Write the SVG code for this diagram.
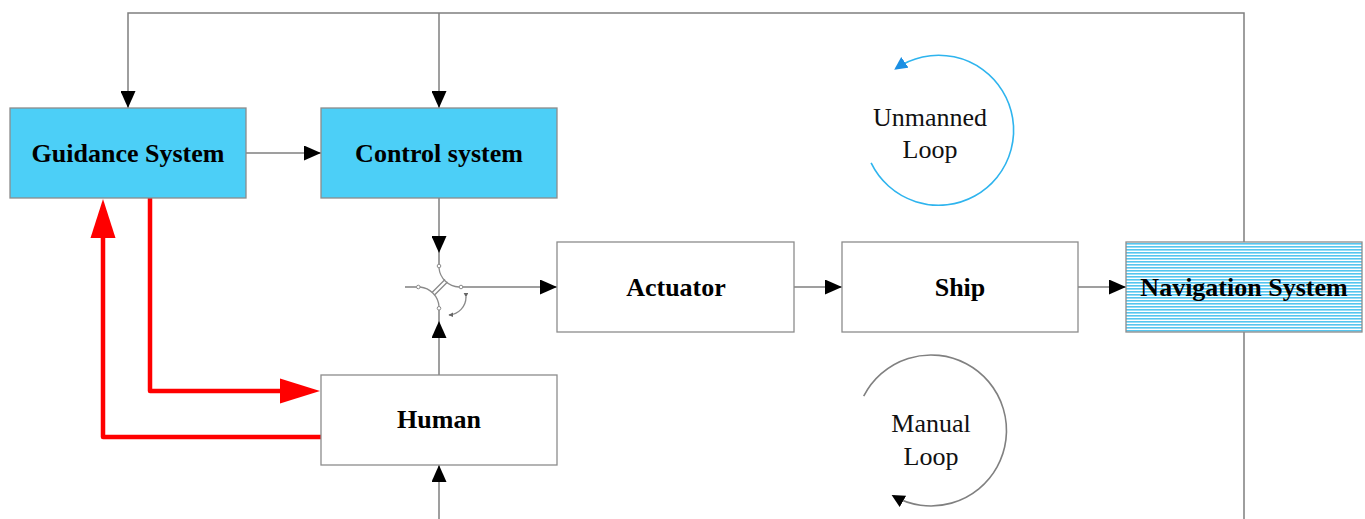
<svg xmlns="http://www.w3.org/2000/svg" width="1365" height="519" viewBox="0 0 1365 519">
<style>
.box{stroke:#8c8c8c;stroke-width:1.3}
.blue{fill:#4ccff7}
.white{fill:#ffffff}
.lbl{font-family:"Liberation Serif","Times New Roman",serif;font-weight:bold;font-size:26px;fill:#000;text-anchor:middle}
.loop{font-family:"Liberation Serif","Times New Roman",serif;font-size:26px;fill:#111;text-anchor:middle}
.con{fill:none;stroke:#7f7f7f;stroke-width:1.5}
.red{fill:none;stroke:#ff0000;stroke-width:4.5;stroke-linejoin:round}
.sw{fill:none;stroke:#8a8a8a;stroke-width:1.3}
</style>
<defs>
<marker id="ah" viewBox="0 0 17 15" refX="17" refY="7.5" markerWidth="17" markerHeight="15" markerUnits="userSpaceOnUse" orient="auto">
<path d="M0,0 L17,7.5 L0,15 z" fill="#000"/>
</marker>
<marker id="ahb" viewBox="0 0 12 12" refX="10" refY="6" markerWidth="13" markerHeight="13" markerUnits="userSpaceOnUse" orient="auto">
<path d="M0,0 L12,6 L0,12 z" fill="#1b8fe3"/>
</marker>
<marker id="ahk" viewBox="0 0 12 12" refX="10" refY="6" markerWidth="13" markerHeight="13" markerUnits="userSpaceOnUse" orient="auto">
<path d="M0,0 L12,6 L0,12 z" fill="#000"/>
</marker>
<marker id="ahs" viewBox="0 0 8 8" refX="7" refY="4" markerWidth="5" markerHeight="5" markerUnits="userSpaceOnUse" orient="auto">
<path d="M0,0 L8,4 L0,8 z" fill="#666"/>
</marker>
<pattern id="stripes" patternUnits="userSpaceOnUse" width="10" height="3">
<rect width="10" height="3" fill="#ffffff"/>
<rect width="10" height="1.6" fill="#55c6ef"/>
</pattern>
</defs>

<g id="connectors">
<path class="con" d="M1244,519 V13 H128 V108" marker-end="url(#ah)"/>
<path class="con" d="M439,13 V108" marker-end="url(#ah)"/>
<path class="con" d="M246,153 H321" marker-end="url(#ah)"/>
<path class="con" d="M439,198 V253" marker-end="url(#ah)"/>
<path class="con" d="M439,252 V264.5"/>
<path class="con" d="M405,287 H416.5"/>
<path class="con" d="M463,287 H557" marker-end="url(#ah)"/>
<path class="con" d="M439,375 V321" marker-end="url(#ah)"/>
<path class="con" d="M439,322 V310"/>
<path class="con" d="M439,519 V465" marker-end="url(#ah)"/>
<path class="con" d="M794,287 H842" marker-end="url(#ah)"/>
<path class="con" d="M1078,287 H1126" marker-end="url(#ah)"/>
<path class="red" d="M150,198 V391 H282"/>
<polygon points="280,378.5 320,391 280,403.5" fill="#ff0000"/>
<path class="red" d="M321,437 H103 V236"/>
<polygon points="90.5,238 103,199 115.5,238" fill="#ff0000"/>
</g>

<g id="switch">
<circle cx="439" cy="266" r="1.8" fill="#fff" stroke="#8a8a8a" stroke-width="1"/>
<circle cx="418.3" cy="287" r="1.8" fill="#fff" stroke="#8a8a8a" stroke-width="1"/>
<circle cx="461" cy="287" r="1.8" fill="#fff" stroke="#8a8a8a" stroke-width="1"/>
<circle cx="439" cy="308.3" r="1.8" fill="#fff" stroke="#8a8a8a" stroke-width="1"/>
<path class="sw" d="M439,268 A21,21 0 0 0 459,287"/>
<path class="sw" d="M420,287 A21,21 0 0 1 439,306.5"/>
<path class="sw" d="M445,279.5 L432,292.5 M447.5,282 L434.5,295"/>
<path class="sw" d="M466,297 A18,18 0 0 1 449,315" marker-end="url(#ahs)" marker-start="url(#ahs)"/>
</g>

<g id="guidance">
<rect class="box blue" x="10" y="108" width="236" height="90"/>
<text class="lbl" x="128" y="162">Guidance System</text>
</g>
<g id="control">
<rect class="box blue" x="321" y="108" width="236" height="90"/>
<text class="lbl" x="439" y="162">Control system</text>
</g>
<g id="actuator">
<rect class="box white" x="557" y="242" width="237" height="90"/>
<text class="lbl" x="676" y="296">Actuator</text>
</g>
<g id="ship">
<rect class="box white" x="842" y="242" width="236" height="90"/>
<text class="lbl" x="960" y="296">Ship</text>
</g>
<g id="navigation">
<rect class="box" x="1126" y="242" width="236" height="90" fill="url(#stripes)"/>
<text class="lbl" x="1244" y="296">Navigation System</text>
</g>
<g id="human">
<rect class="box white" x="321" y="375" width="236" height="90"/>
<text class="lbl" x="439" y="428">Human</text>
</g>

<g id="unmanned-loop">
<path d="M871.1,162.9 A75,75 0 1 0 896,68.5" fill="none" stroke="#2eb4ee" stroke-width="1.6" marker-end="url(#ahb)"/>
<text class="loop" x="930" y="126">Unmanned</text>
<text class="loop" x="930" y="158">Loop</text>
</g>
<g id="manual-loop">
<path d="M863.7,396.2 A75.5,75.5 0 1 1 893.5,496" fill="none" stroke="#808080" stroke-width="1.6" marker-end="url(#ahk)"/>
<text class="loop" x="931" y="432">Manual</text>
<text class="loop" x="931" y="465">Loop</text>
</g>
</svg>
